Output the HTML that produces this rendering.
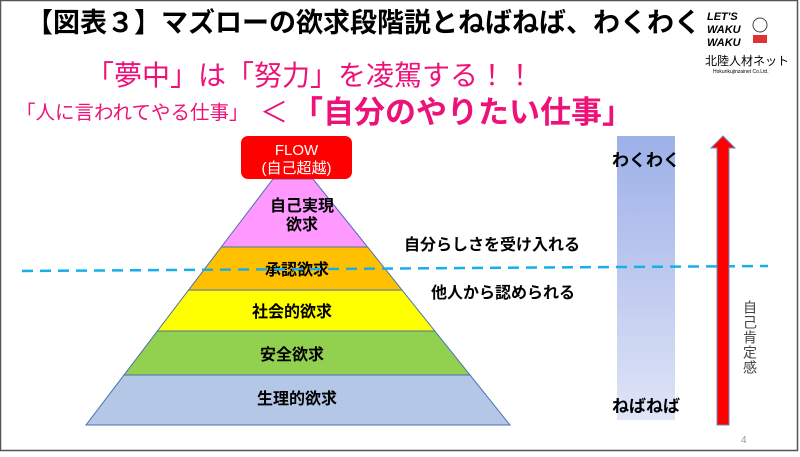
<!DOCTYPE html>
<html><head><meta charset="utf-8"><style>
html,body{margin:0;padding:0;background:#fff}
body{width:800px;height:452px;overflow:hidden}
svg text{font-family:"Liberation Sans","Noto Sans CJK JP",sans-serif}
</style></head><body>
<svg width="800" height="452" viewBox="0 0 800 452" xmlns="http://www.w3.org/2000/svg">
<rect x="0" y="0" width="800" height="452" fill="#fff"/>
<rect x="0.5" y="0.5" width="797" height="450" fill="none" stroke="#555" stroke-width="1.5"/>
<text x="26" y="32" font-size="27" font-weight="bold" fill="#000">【図表３】マズローの欲求段階説とねばねば、わくわく</text>
<text x="707" y="20" font-size="11" font-weight="bold" font-style="italic" fill="#000">LET'S</text>
<text x="707" y="33" font-size="11" font-weight="bold" font-style="italic" fill="#000">WAKU</text>
<text x="707" y="46" font-size="11" font-weight="bold" font-style="italic" fill="#000">WAKU</text>
<circle cx="760" cy="25" r="7" fill="#fff" stroke="#444"/>
<rect x="753" y="35" width="14" height="8" fill="#d33"/>
<text x="705" y="65" font-size="12" fill="#000">北陸人材ネット</text>
<text x="713" y="73" font-size="5" fill="#000">Hokurikujinzainet Co.Ltd.</text>
<text x="86" y="85" font-size="28" fill="#ee1177">「夢中」は「努力」を凌駕する！！</text>
<text x="16" y="119" font-size="19.5" fill="#ee1177">「人に言われてやる仕事」</text>
<text x="260" y="122" font-size="28" fill="#ee1177">＜</text>
<text x="292" y="123" font-size="31" font-weight="bold" fill="#ee1177">「自分のやりたい仕事」</text>
<g stroke="#4a6fb0" stroke-width="1">
<polygon points="273,179 313,179 367.6,247 221.3,247" fill="#ff99ff"/>
<polygon points="221.3,247 367.6,247 402,290 188.6,290" fill="#ffc000"/>
<polygon points="188.6,290 402,290 434.8,331 157.4,331" fill="#ffff00"/>
<polygon points="157.4,331 434.8,331 470,375 124,375" fill="#92d050"/>
<polygon points="124,375 470,375 510,425 86,425" fill="#b4c7e7"/>
</g>
<line x1="221.3" y1="247" x2="367.6" y2="247" stroke="#888" stroke-width="1.5"/>
<line x1="188.6" y1="290" x2="402" y2="290" stroke="#888" stroke-width="1.5"/>
<rect x="241" y="136" width="111" height="43" rx="7" fill="#ff0000"/>
<text x="296.5" y="155" font-size="15" fill="#fff" text-anchor="middle">FLOW</text>
<text x="296.5" y="173" font-size="15" fill="#fff" text-anchor="middle">(自己超越)</text>
<g font-size="16" fill="#000" text-anchor="middle" font-weight="bold">
<text x="302" y="211">自己実現</text>
<text x="302" y="230">欲求</text>
<text x="297" y="275">承認欲求</text>
<text x="292" y="317">社会的欲求</text>
<text x="292" y="360">安全欲求</text>
<text x="297" y="404">生理的欲求</text>
<text x="492" y="250">自分らしさを受け入れる</text>
<text x="503" y="298">他人から認められる</text>
</g>
<defs><linearGradient id="g" x1="0" y1="0" x2="0" y2="1"><stop offset="0" stop-color="#9db0e8"/><stop offset="1" stop-color="#dfe4f6"/></linearGradient></defs>
<rect x="617" y="136" width="58" height="284" fill="url(#g)"/>
<text x="646" y="166" font-size="17" font-weight="bold" fill="#000" text-anchor="middle">わくわく</text>
<text x="646" y="412" font-size="17" font-weight="bold" fill="#000" text-anchor="middle">ねばねば</text>
<line x1="22" y1="271" x2="768" y2="266" stroke="#1aaee8" stroke-width="2.5" stroke-dasharray="11,7"/>
<polygon points="723,136 735,148 729,148 729,425 717,425 717,148 711,148" fill="#ff0000" stroke="#6d8ac0" stroke-width="1"/>
<text x="750" y="300" font-size="14" fill="#444" style="writing-mode:vertical-rl" letter-spacing="1">自己肯定感</text>
<text x="741" y="443" font-size="10" fill="#999">4</text>
</svg>
</body></html>
